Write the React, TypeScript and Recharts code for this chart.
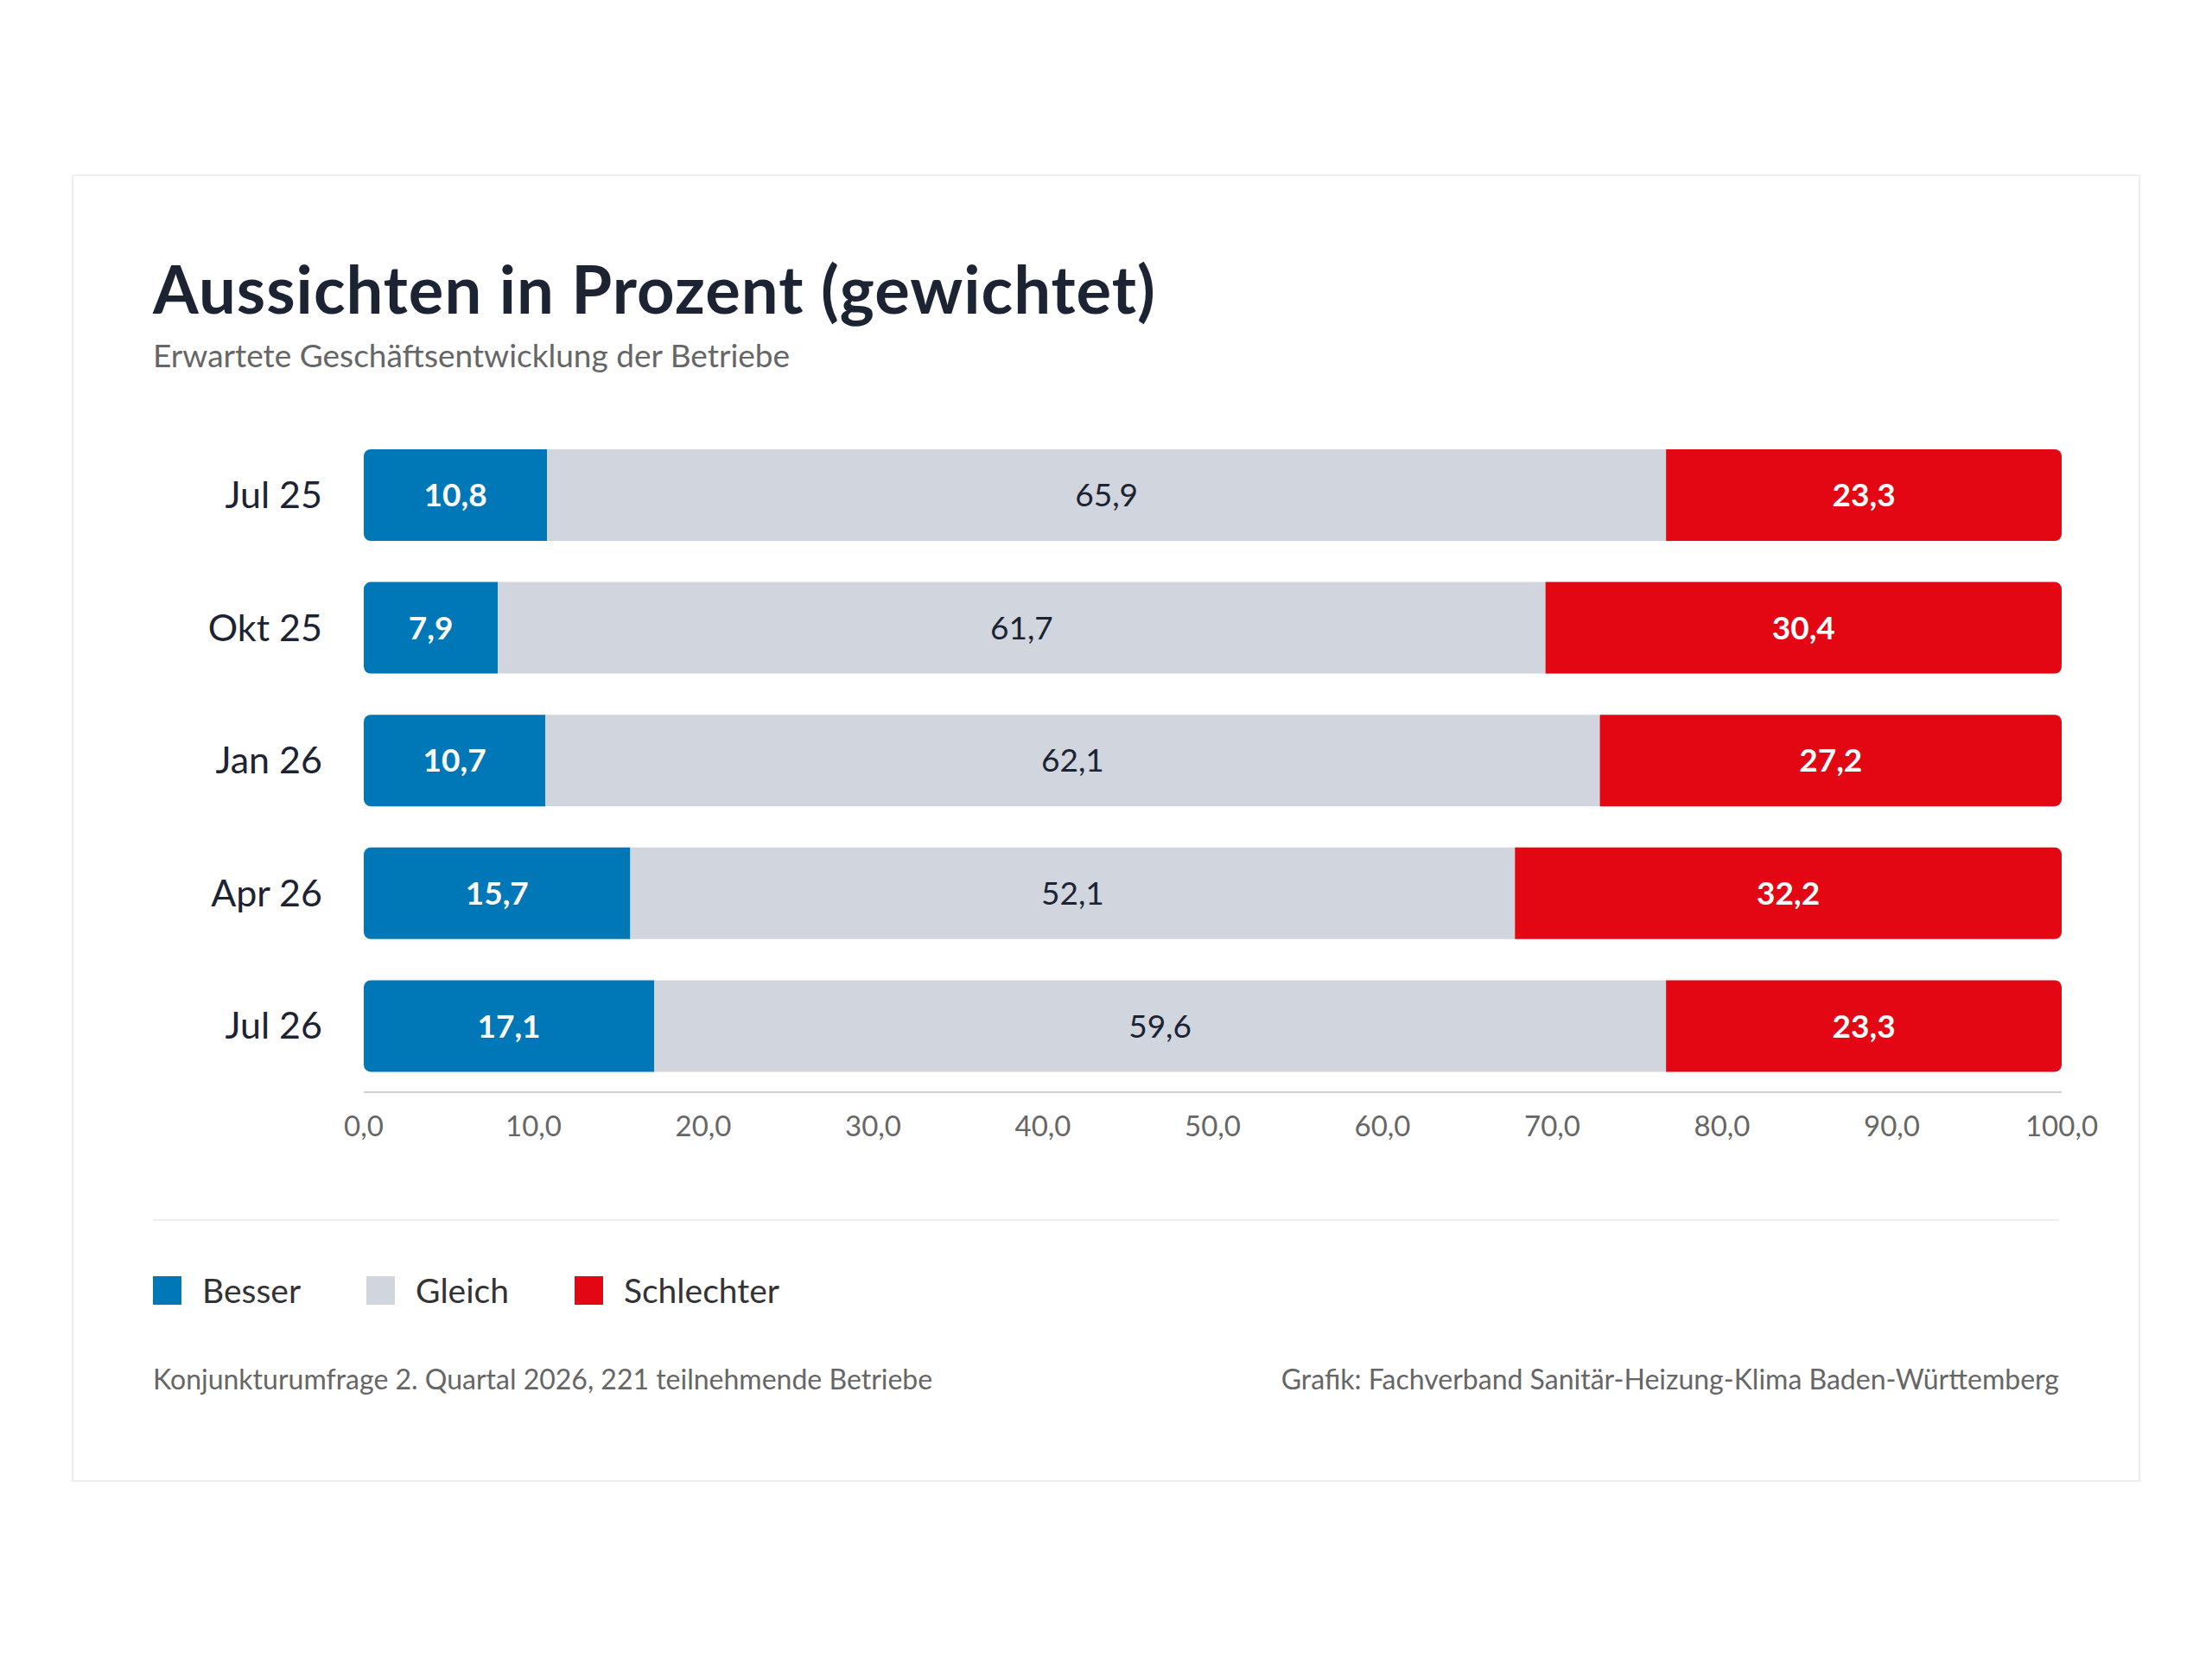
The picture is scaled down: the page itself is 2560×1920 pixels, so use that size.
import { Bar, BarChart, XAxis, YAxis, LabelList } from 'recharts';

const periods = ['Jul 25', 'Okt 25', 'Jan 26', 'Apr 26', 'Jul 26'];
const besser = [10.8, 7.9, 10.7, 15.7, 17.1];
const gleich = [65.9, 61.7, 62.1, 52.1, 59.6];
const schlechter = [23.3, 30.4, 27.2, 32.2, 23.3];
const xTicks = [0, 10, 20, 30, 40, 50, 60, 70, 80, 90, 100];

const data = periods.map((p, i) => ({ period: p, besser: besser[i], gleich: gleich[i], schlechter: schlechter[i] }));

const FONT = 'Lato, "Noto Sans", sans-serif';
const fmt = (v: number) => v.toFixed(1).replace('.', ',');

const legend = [
  { name: 'Besser', color: '#0077b6' },
  { name: 'Gleich', color: '#d1d5de' },
  { name: 'Schlechter', color: '#e30613' },
];

export default function App() {
  return (
    <div style={{ position: 'absolute', left: 0, top: 0, width: 2560, height: 1920, background: '#fff', fontFamily: FONT }}>
      <div style={{ position: 'absolute', left: 83, top: 202, width: 2394, height: 1513, border: '2px solid #eeeeee', boxSizing: 'border-box' }} />
      <div style={{ position: 'absolute', left: 177, top: 288, fontSize: 76, fontWeight: 700, color: '#1c2333', letterSpacing: 1 }}>Aussichten in Prozent (gewichtet)</div>
      <div style={{ position: 'absolute', left: 177, top: 388, fontSize: 37, color: '#666' }}>Erwartete Geschäftsentwicklung der Betriebe</div>

      <div style={{ position: 'absolute', left: 100, top: 480 }}>
        <BarChart width={2400} height={880} data={data} layout="vertical" barSize={106}
          margin={{ top: 16, right: 114, bottom: 0, left: 0 }}>
          <XAxis type="number" domain={[0, 100]} ticks={xTicks} tickFormatter={fmt} tickLine={false}
            axisLine={{ stroke: '#d0d0d0', strokeWidth: 2 }} tick={{ fontSize: 33, fill: '#666', fontFamily: FONT }} tickMargin={22} height={96} />
          <YAxis type="category" dataKey="period" width={321} tickLine={false} axisLine={false}
            tick={{ fontSize: 43, fill: '#1c2333', fontFamily: FONT }} tickMargin={42} />
          <Bar dataKey="besser" stackId="a" fill="#0077b6" radius={[8, 0, 0, 8]} isAnimationActive={false}>
            <LabelList dataKey="besser" position="center" formatter={(v: number) => fmt(v)} fill="#fff" fontSize={37} fontWeight={700} fontFamily={FONT} />
          </Bar>
          <Bar dataKey="gleich" stackId="a" fill="#d1d5de" isAnimationActive={false}>
            <LabelList dataKey="gleich" position="center" formatter={(v: number) => fmt(v)} fill="#1c2333" fontSize={37} fontFamily={FONT} />
          </Bar>
          <Bar dataKey="schlechter" stackId="a" fill="#e30613" radius={[0, 8, 8, 0]} isAnimationActive={false}>
            <LabelList dataKey="schlechter" position="center" formatter={(v: number) => fmt(v)} fill="#fff" fontSize={37} fontWeight={700} fontFamily={FONT} />
          </Bar>
        </BarChart>
      </div>

      <div style={{ position: 'absolute', left: 177, top: 1411, width: 2206, height: 2, background: '#eeeeee' }} />
      <div style={{ position: 'absolute', left: 177, top: 1470, display: 'flex', gap: 76, fontSize: 39, color: '#333' }}>
        {legend.map(l => (
          <div key={l.name} style={{ display: 'flex', alignItems: 'center', gap: 24 }}>
            <div style={{ width: 33, height: 33, background: l.color }} />
            <span>{l.name}</span>
          </div>
        ))}
      </div>
      <div style={{ position: 'absolute', left: 177, top: 1576, fontSize: 32, color: '#666' }}>Konjunkturumfrage 2. Quartal 2026, 221 teilnehmende Betriebe</div>
      <div style={{ position: 'absolute', right: 2560 - 2383, top: 1576, fontSize: 32, color: '#666' }}>Grafik: Fachverband Sanitär-Heizung-Klima Baden-Württemberg</div>
    </div>
  );
}
